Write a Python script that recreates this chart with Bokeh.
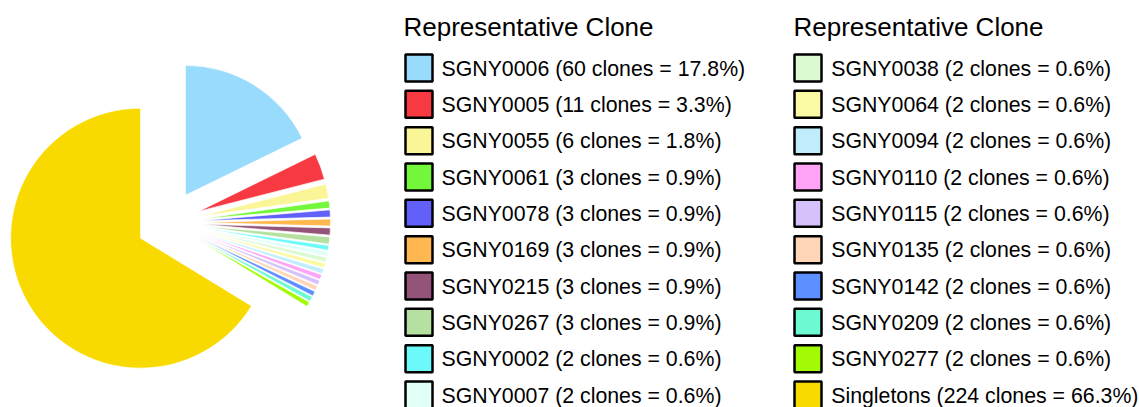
import math
from bokeh.plotting import figure
from bokeh.models import Range1d, ColumnDataSource
from bokeh.core.properties import value
from bokeh.embed import file_html
from bokeh.resources import INLINE

# ---- data ----
clones = ["SGNY0006", "SGNY0005", "SGNY0055", "SGNY0061", "SGNY0078", "SGNY0169",
          "SGNY0215", "SGNY0267", "SGNY0002", "SGNY0007", "SGNY0038", "SGNY0064",
          "SGNY0094", "SGNY0110", "SGNY0115", "SGNY0135", "SGNY0142", "SGNY0209",
          "SGNY0277", "Singletons"]
counts = [60, 11, 6, 3, 3, 3, 3, 3, 2, 2, 2, 2, 2, 2, 2, 2, 2, 2, 2, 224]
colors = ["#99DBFC", "#F73A42", "#FAF596", "#73F73A", "#6161FA", "#FFB84F",
          "#94547A", "#B6E0A0", "#6BF9FA", "#E0FFF7", "#DBFAD2", "#FAFAA5",
          "#BFEDFC", "#FFA3F7", "#D6C2FA", "#FFD6B8", "#5C8FFF", "#6BFAD1",
          "#A3FA05", "#F9DA00"]
legend_title = "Representative Clone"

# ---- layout (pixels) ----
W, H = 1139, 407
CX, CY = 168, 185          # pie centre
R = 130                    # pie radius
EXPLODE = 32               # explode distance

total = sum(counts)
xs, ys, starts, ends = [], [], [], []
cum = 0
for c in counts:
    a0 = math.pi / 2 - 2 * math.pi * cum / total
    cum += c
    a1 = math.pi / 2 - 2 * math.pi * cum / total
    mid = (a0 + a1) / 2
    xs.append(CX + EXPLODE * math.cos(mid))
    ys.append(CY + EXPLODE * math.sin(mid))
    starts.append(a1)
    ends.append(a0)

pie_src = ColumnDataSource(dict(x=xs, y=ys, start=starts, end=ends, color=colors))

p = figure(width=W, height=H, output_backend="svg", toolbar_location=None,
           x_range=Range1d(0, W), y_range=Range1d(0, H), min_border=0)
p.axis.visible = False
p.grid.visible = False
p.outline_line_color = None
p.background_fill_color = "white"

p.wedge(x="x", y="y", radius=R, start_angle="start", end_angle="end",
        direction="anticlock", fill_color="color", line_color="white",
        line_width=0.7, source=pie_src)

# ---- legend ----
labels = ["%s (%d clones = %.1f%%)" % (n, c, 100.0 * c / total) for n, c in zip(clones, counts)]
per_col = 10
col_sw_x = [418.5, 807.5]
col_txt_x = [441, 830.7]
col_title_x = [403, 793]
row0 = H - 67.5
step = 36.33

lx, ly, tx, ty, lc, lt = [], [], [], [], [], []
for i, (lab, col) in enumerate(zip(labels, colors)):
    ci, ri = divmod(i, per_col)
    yc = row0 - ri * step
    lx.append(col_sw_x[ci]); ly.append(yc); lc.append(col)
    tx.append(col_txt_x[ci]); ty.append(yc - 0.8); lt.append(lab)

p.rect(x=lx, y=ly, width=27, height=27, fill_color=lc, line_color="black", line_width=2.5)
p.text(x=tx, y=ty, text=lt, text_font=value("Liberation Sans"), text_font_size="21.3px",
       text_color="black", text_baseline="alphabetic", text_align="left")
p.text(x=col_title_x, y=[H - 26, H - 26], text=[legend_title, legend_title],
       text_font=value("Liberation Sans"), text_font_size="26px",
       text_color="black", text_baseline="alphabetic", text_align="left")

open("out.html", "w").write(file_html(p, INLINE))
